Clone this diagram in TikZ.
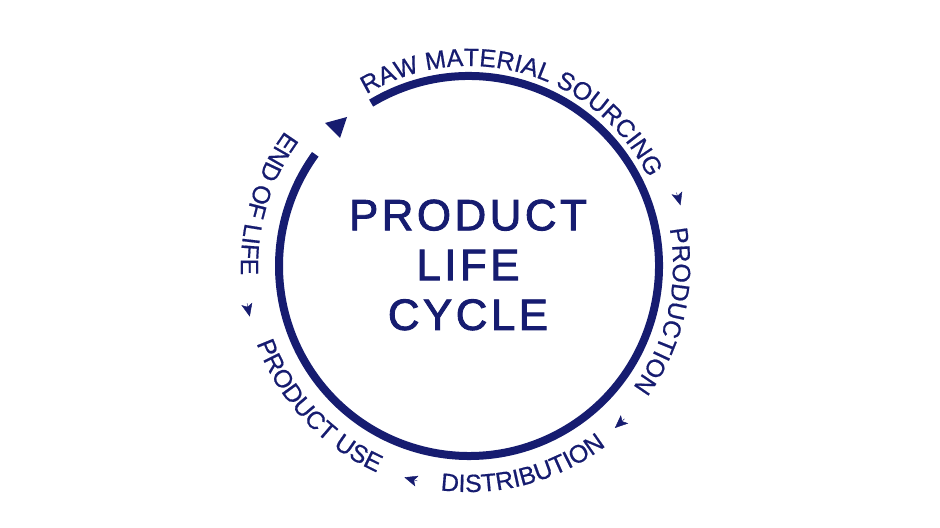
\documentclass[tikz,border=0pt]{standalone}
\usepackage{fontspec}
\setmainfont{Liberation Sans}
\usetikzlibrary{decorations.text,arrows.meta}
\definecolor{navy}{RGB}{22,28,112}
\newfontfamily\ringfont{Liberation Sans}[LetterSpace=0,FakeBold=0.6]
\newfontfamily\titlefont{Liberation Sans}[LetterSpace=8,FakeBold=2]
\tikzset{
  ring/.style={draw=navy,line width=8bp},
  lbl/.style={decorate,decoration={text along path,text align=center,
     text color=navy,text={#1}}},
  small/.style={-{Stealth[length=13bp,width=11bp,inset=3bp]},navy,line width=0.4bp},
}
\begin{document}
\begin{tikzpicture}[x=1bp,y=1bp]
\useasboundingbox[fill=white] (0,0) rectangle (940,528);
\begin{scope}[shift={(469,262)}]
\draw[ring] (121:190) arc[start angle=121,end angle=-216,radius=190];
\fill[navy] (325-469,405-262) -- (347-469,411-262) -- (340-469,390-262) -- cycle;
\path[lbl={|\fontsize{25}{25}\ringfont\color{navy}|RAW MATERIAL SOURCING}] (131:200) arc[start angle=131,end angle=16,radius=200];
\path[lbl={|\fontsize{25}{25}\ringfont\color{navy}|PRODUCTION}] (32:204) arc[start angle=32,end angle=-58,radius=204];
\path[lbl={|\fontsize{25}{25}\ringfont\color{navy}|DISTRIBUTION}] (240:226) arc[start angle=240,end angle=330,radius=226];
\path[lbl={|\fontsize{25}{25}\ringfont\color{navy}|PRODUCT USE}] (180:226) arc[start angle=180,end angle=266,radius=226];
\path[lbl={|\fontsize{25}{25}\ringfont\color{navy}|END OF LIFE}] (120:228) arc[start angle=120,end angle=206,radius=228];
\draw[small] (19.5:220) arc[start angle=19.5,end angle=16,radius=220];
\draw[small] (-44.5:218) arc[start angle=-44.5,end angle=-48,radius=218];
\draw[small] (256.5:221) arc[start angle=256.5,end angle=253,radius=221];
\draw[small] (189.5:225) arc[start angle=189.5,end angle=193,radius=225];
\end{scope}
\node[text=navy,font=\fontsize{44}{50}\titlefont,align=center] (title) at (468,263) {PRODUCT\\LIFE\\CYCLE};
\end{tikzpicture}
\end{document}
